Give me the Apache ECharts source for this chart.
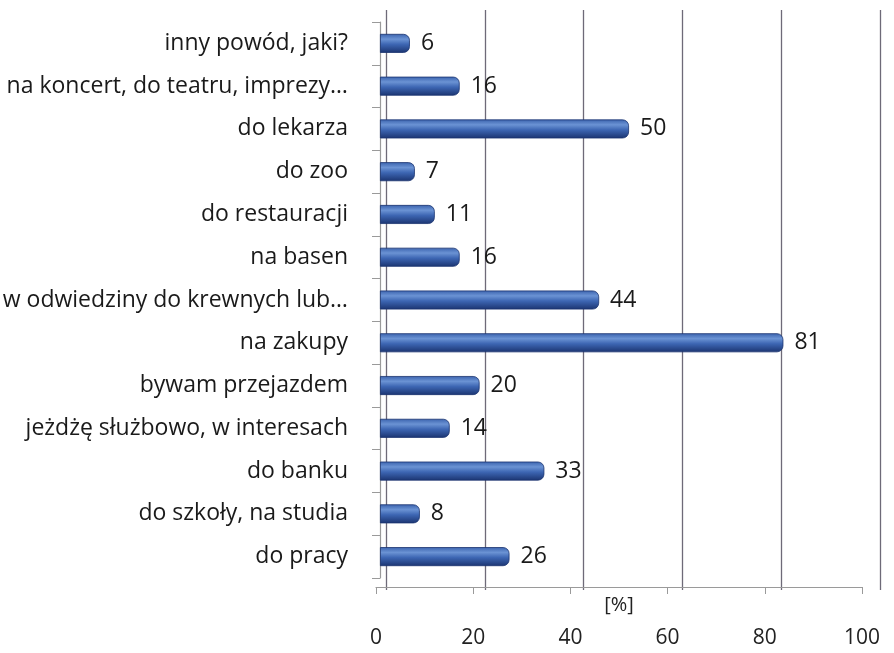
<!DOCTYPE html>
<html>
<head>
<meta charset="utf-8">
<script src="https://cdn.jsdelivr.net/npm/echarts@6/dist/echarts.min.js"></script>
<style>html,body{margin:0;padding:0;background:#fff}#c{width:894px;height:653px}</style>
</head>
<body>
<div id="c"></div>
<script>
// Categories listed top to bottom as in the chart
var categories = [
  "inny powód, jaki?",
  "na koncert, do teatru, imprezy…",
  "do lekarza",
  "do zoo",
  "do restauracji",
  "na basen",
  "w odwiedziny do krewnych lub…",
  "na zakupy",
  "bywam przejazdem",
  "jeżdżę służbowo, w interesach",
  "do banku",
  "do szkoły, na studia",
  "do pracy"
];
var values = [6, 16, 50, 7, 11, 16, 44, 81, 20, 14, 33, 8, 26];
var axisMin = 0, axisMax = 100, axisStep = 20;
var axisName = "[%]";

var FONT = "'Open Sans', sans-serif";
var chart = echarts.init(document.getElementById('c'));
var barColor = new echarts.graphic.LinearGradient(0, 0, 0, 1, [
  {offset: 0, color: '#3a62ad'},
  {offset: 0.28, color: '#6b93d4'},
  {offset: 0.55, color: '#3d66b3'},
  {offset: 1, color: '#1b3470'}
]);
chart.setOption({
  backgroundColor: '#ffffff',
  animation: false,
  grid: [
    {left: 380, right: 16, top: 22, bottom: 75, outerBoundsMode: 'none'},
    {left: 386, right: 14, top: 10, bottom: 63, outerBoundsMode: 'none'},
    {left: 376, right: 32, top: 10, bottom: 66, outerBoundsMode: 'none'}
  ],
  xAxis: [
    {gridIndex: 0, type: 'value', min: axisMin, max: axisMax, show: false},
    {gridIndex: 1, type: 'value', min: axisMin, max: axisMax, interval: axisStep,
     axisLine: {show: false}, axisTick: {show: false}, axisLabel: {show: false},
     splitLine: {show: true, lineStyle: {color: '#6e6a78', width: 1.3}}},
    {gridIndex: 2, type: 'value', min: axisMin, max: axisMax, interval: axisStep,
     axisLine: {show: true, lineStyle: {color: '#9a9a9a', width: 1.2}},
     axisTick: {show: true, length: 7, lineStyle: {color: '#9a9a9a'}},
     splitLine: {show: false},
     axisLabel: {show: true, margin: 41, fontSize: 21, color: '#222', fontFamily: FONT},
     name: axisName, nameLocation: 'middle', nameGap: 8, nameMoveOverlap: false,
     nameTextStyle: {fontSize: 20, color: '#222', fontFamily: FONT, verticalAlign: 'top'}}
  ],
  yAxis: [
    {gridIndex: 0, type: 'category', data: categories, inverse: true,
     axisLine: {show: true, lineStyle: {color: '#9a9a9a', width: 1.2}},
     axisTick: {show: true, length: 8, lineStyle: {color: '#9a9a9a'}},
     axisLabel: {margin: 32, fontSize: 23, color: '#1a1a1a', fontFamily: FONT}},
    {gridIndex: 1, type: 'value', show: false},
    {gridIndex: 2, type: 'value', show: false}
  ],
  series: [{
    type: 'bar',
    xAxisIndex: 0, yAxisIndex: 0,
    data: values,
    barWidth: 19,
    itemStyle: {color: barColor, borderRadius: [0, 6, 6, 0], borderColor: '#1b3470', borderWidth: 0.8},
    label: {show: true, position: 'right', distance: 11, fontSize: 23, color: '#1a1a1a', fontFamily: FONT}
  }]
});
</script>
</body>
</html>
